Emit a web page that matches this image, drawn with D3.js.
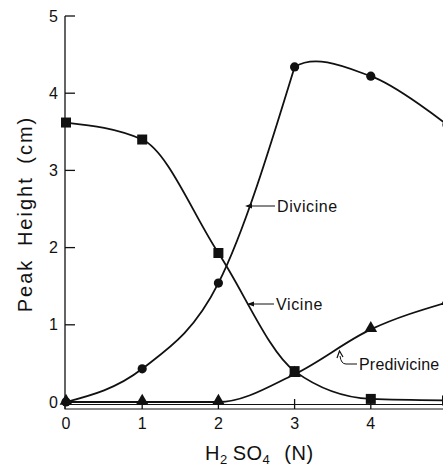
<!DOCTYPE html>
<html>
<head>
<meta charset="utf-8">
<script src="https://cdn.jsdelivr.net/npm/d3@7"></script>
<style>
  html, body { margin: 0; padding: 0; background: #fff; }
  svg { display: block; }
  text { font-family: "Liberation Sans", Arial, sans-serif; fill: #111; }
</style>
</head>
<body>
<svg id="chart" width="443" height="467"></svg>
<script>
// ---- data ----
const concentrations = [0, 1, 2, 3, 4, 5];            // H2SO4 (N)
const vicine      = [3.62, 3.40, 1.93, 0.40, 0.04, 0.02];
const divicine    = [0.00, 0.43, 1.54, 4.34, 4.22, 3.59];
const predivicine = [0.00, 0.00, 0.00, 0.36, 0.94, 1.29];
const xTicks = [0, 1, 2, 3, 4, 5];
const yTicks = [0, 1, 2, 3, 4, 5];
const seriesNames = ["Vicine", "Divicine", "Predivicine"];

// ---- layout ----
const svg = d3.select("#chart");
const x = d3.scaleLinear().domain([0, 5]).range([66, 447]);
const y = d3.scaleLinear().domain([0, 5]).range([402, 16]);
const axisY = 409;

const defs = svg.append("defs");
defs.append("clipPath").attr("id", "leftOf3").append("rect")
  .attr("x", 0).attr("y", 0).attr("width", x(3)).attr("height", 467);
defs.append("clipPath").attr("id", "rightOf3").append("rect")
  .attr("x", x(3)).attr("y", 0).attr("width", 443).attr("height", 467);

const g = svg.append("g");

// y axis line and inward ticks
g.append("line").attr("x1", x(0) - 1).attr("x2", x(0) - 1)
  .attr("y1", y(5)).attr("y2", axisY)
  .attr("stroke", "#111").attr("stroke-width", 1.3);
g.selectAll(".ytick").data(yTicks.filter(d => d > 0)).enter().append("line")
  .attr("x1", x(0) - 1).attr("x2", x(0) + 9)
  .attr("y1", d => y(d)).attr("y2", d => y(d))
  .attr("stroke", "#111").attr("stroke-width", 1.3);
g.selectAll(".ylab").data(yTicks).enter().append("text")
  .attr("x", x(0) - 8).attr("y", d => y(d))
  .attr("dy", "0.35em").attr("text-anchor", "end")
  .attr("font-size", 16).text(d => d);

// x axis (drawn as a thin double rule like the original)
g.append("rect").attr("x", x(0) - 1).attr("y", axisY - 4.5)
  .attr("width", 460).attr("height", 4.5)
  .attr("fill", "none").attr("stroke", "#111").attr("stroke-width", 1);
g.selectAll(".xtick").data(xTicks.filter(d => d > 0)).enter().append("line")
  .attr("x1", d => x(d)).attr("x2", d => x(d))
  .attr("y1", axisY).attr("y2", axisY - 10)
  .attr("stroke", "#111").attr("stroke-width", 1.3);
g.selectAll(".xlab").data(xTicks).enter().append("text")
  .attr("x", d => x(d)).attr("y", 429)
  .attr("text-anchor", "middle")
  .attr("font-size", 16).text(d => d);

// axis titles
const xt = g.append("text").attr("x", 205).attr("y", 460)
  .attr("font-size", 20).attr("letter-spacing", 0.5);
xt.append("tspan").text("H");
xt.append("tspan").attr("font-size", 13).attr("dy", 4).text("2");
xt.append("tspan").attr("dx", 5).attr("dy", -4).text("SO");
xt.append("tspan").attr("font-size", 13).attr("dy", 4).text("4");
xt.append("tspan").attr("dx", 14).attr("dy", -4).text("(N)");

g.append("text")
  .attr("transform", "translate(32," + 214 + ") rotate(-90)")
  .attr("text-anchor", "middle")
  .attr("font-size", 20).attr("letter-spacing", 2).attr("word-spacing", 5)
  .text("Peak Height (cm)");

// ---- curves ----
const pts = vals => concentrations.map((c, i) => [x(c), y(vals[i])]);
const lineMono = d3.line().curve(d3.curveMonotoneX);
const lineCR = d3.line().curve(d3.curveCatmullRom.alpha(0.5));

const lines = g.append("g").attr("fill", "none").attr("stroke", "#111").attr("stroke-width", 1.8);
lines.append("path").attr("d", lineMono(pts(vicine)));
// divicine: rising limb up to 3 N, then the smooth maximum beyond it
lines.append("path").attr("d", lineMono(pts(divicine).slice(0, 4)))
  .attr("clip-path", "url(#leftOf3)");
lines.append("path").attr("d", lineCR(pts(divicine).slice(2)))
  .attr("clip-path", "url(#rightOf3)");
lines.append("path").attr("d", lineMono(pts(predivicine)));

// ---- markers ----
const m = g.append("g").attr("fill", "#111");
m.selectAll(".sq").data(pts(vicine)).enter().append("rect")
  .attr("x", d => d[0] - 5).attr("y", d => d[1] - 5)
  .attr("width", 10).attr("height", 10);
m.selectAll(".ci").data(pts(divicine)).enter().append("circle")
  .attr("cx", d => d[0]).attr("cy", d => d[1]).attr("r", 4.6);
m.selectAll(".tr").data(pts(predivicine)).enter().append("path")
  .attr("d", d => d3.symbol(d3.symbolTriangle, 70)())
  .attr("transform", d => "translate(" + d[0] + "," + (d[1] - 1) + ")");

// ---- annotations ----
const ann = g.append("g");
function arrowLabel(tipX, tipY, textX, label) {
  ann.append("line").attr("x1", tipX + 2).attr("x2", textX - 2)
    .attr("y1", tipY).attr("y2", tipY)
    .attr("stroke", "#111").attr("stroke-width", 1);
  ann.append("path")
    .attr("d", `M${tipX},${tipY} l7,-2.5 l0,5 Z`).attr("fill", "#111");
  ann.append("text").attr("x", textX).attr("y", tipY)
    .attr("dy", "0.35em").attr("font-size", 16).attr("letter-spacing", 0.6)
    .text(label);
}
arrowLabel(245, 206, 277, seriesNames[1]);
arrowLabel(247, 304, 276, seriesNames[0]);

// Predivicine bent pointer
ann.append("path")
  .attr("d", "M357,364 L346,364 Q341,364 340,356")
  .attr("fill", "none").attr("stroke", "#111").attr("stroke-width", 1);
ann.append("path")
  .attr("d", "M337,358 L339.5,351 L343,357")
  .attr("fill", "none").attr("stroke", "#111").attr("stroke-width", 1.2);
ann.append("text").attr("x", 359).attr("y", 364)
  .attr("dy", "0.35em").attr("font-size", 16).attr("letter-spacing", 0.2)
  .text(seriesNames[2]);
</script>
</body>
</html>
